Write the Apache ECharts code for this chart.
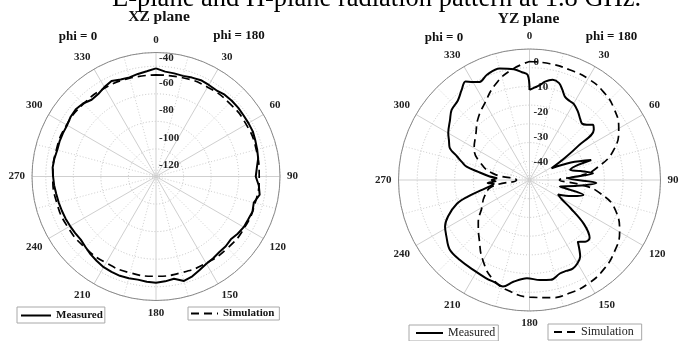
<!DOCTYPE html>
<html><head><meta charset="utf-8">
<script src="https://cdn.jsdelivr.net/npm/echarts@6/dist/echarts.min.js"></script>
<style>html,body{margin:0;padding:0;background:#fff}#c{width:679px;height:341px}</style>
</head><body><div id="c"></div>
<script>
// ---------- data ----------
const titleText = 'E-plane and H-plane radiation pattern at 1.8 GHz.';
const angleTickLabels = ['0','30','60','90','120','150','180','210','240','270','300','330'];

// XZ plane (left)
const xzMeasuredAngles = [0,5,10,15,20,25,30,35,40,45,50,55,60,65,70,75,80,85,90,95,100,105,110,115,120,125,130,135,140,145,150,155,160,165,170,175,180,185,190,195,200,205,210,215,220,225,230,235,240,245,250,255,260,265,270,275,280,285,290,295,300,305,310,315,320,325,330,335,340,345,350,355];
const xzMeasuredDb = [-61.5,-63.6,-64.0,-64.4,-63.6,-62.9,-63.3,-63.6,-62.5,-62.2,-62.2,-62.5,-62.5,-62.5,-63.3,-64.0,-64.7,-66.5,-67.6,-65.1,-63.6,-66.5,-65.5,-66.2,-66.5,-67.6,-69.1,-68.4,-68.4,-67.6,-66.9,-65.1,-62.9,-61.5,-64.7,-63.6,-62.9,-63.3,-64.0,-63.6,-63.3,-63.6,-64.0,-65.1,-66.2,-67.6,-68.7,-68.4,-68.0,-67.6,-67.3,-66.9,-66.5,-65.8,-65.3,-64.7,-65.1,-65.8,-65.5,-65.5,-65.5,-64.4,-64.0,-65.1,-67.3,-66.9,-65.1,-63.6,-65.1,-65.5,-64.4,-63.3];
const xzSimAngles = [0,15,30,45,60,75,90,105,120,135,150,165,180,195,210,225,240,255,270,285,300,315,330,345];
const xzSimDb = [-66.2,-65.8,-65.1,-64.7,-64.4,-64.7,-65.1,-65.5,-65.8,-66.5,-67.3,-67.8,-67.6,-67.6,-67.6,-67.1,-66.2,-65.5,-65.1,-65.1,-65.1,-65.5,-65.8,-66.2];
const xzRadiusTickLabels = ['', '-120', '-100', '-80', '-60', '-40'];

// YZ plane (right)
const yzMeasuredAngles = [0,3,6,9,13,17,20,23,27,30,35,40,43,46,49,52,55,58,62,67,72,76,80,84,87.5,92.5,97,102,105.5,111,117,121,124.5,129,134,138,142,146.5,150,154,158,162,168,174,181.5,189,194,198,204,212,221,229,236,241,246,252,255,258,262,264,266,268,270,273,275,279,282,285,288,292,296,300,307,312,318,323,327,330,333,338,345,352,356,359];
const yzMeasuredDb = [-8.9,-7.9,-6.9,-5.1,-3.8,-4.4,-6.5,-8.7,-9.5,-9.7,-11.3,-13.3,-14.1,-13.1,-11.3,-12.3,-21.0,-28.2,-35.0,-27.0,-19.0,-28.2,-24.2,-19.4,-29.4,-18.2,-25.8,-32.6,-22.6,-27.0,-32.2,-29.8,-25.0,-16.9,-11.5,-11.7,-13.5,-8.2,-6.5,-5.5,-5.7,-5.6,-4.1,-4.7,-5.6,-3.7,-1.0,-1.6,-2.0,-2.5,-2.5,-2.6,-4.8,-6.3,-9.3,-14.5,-19.4,-25.0,-29.8,-30.6,-28.2,-31.4,-29.8,-31.8,-29.0,-24.2,-19.2,-16.9,-14.5,-10.5,-9.1,-7.4,-5.1,-3.0,-2.1,0.2,2.1,0.3,-0.9,0.5,1.3,-0.2,-1.7,-2.9];
const yzSimAngles = [0,10,20,30,40,50,60,70,80,85,90,95,100,110,120,130,140,150,160,170,180,190,200,210,220,230,240,250,260,270,280,290,300,310,320,330,340,350];
const yzSimDb = [2.5,2.3,2.0,1.9,1.1,-0.7,-3.7,-8.9,-17.8,-24.2,-33.0,-25.0,-16.9,-8.1,-3.3,-0.5,1.5,2.7,3.1,2.9,1.9,0.3,-2.5,-7.7,-13.7,-18.2,-23.0,-25.8,-29.8,-39.8,-30.3,-23.8,-19.4,-16.9,-12.9,-9.3,-4.5,-0.5];
const yzRadiusTickValues = [-40, -30, -20, -10, 0];

// ---------- chart ----------
const SERIF = "'Liberation Serif','Times New Roman',serif";
function closed(db, ang) {
  const d = db.map((v, i) => [v, ang[i]]);
  d.push([db[0], 360]);
  return d;
}
function angleAxis(idx) {
  return {
    polarIndex: idx, type: 'value', min: 0, max: 360, interval: 30,
    startAngle: 90, clockwise: true,
    axisLine: { lineStyle: { color: '#8a8a8a', width: 1 } },
    axisTick: { show: false },
    axisLabel: { margin: 7, fontFamily: SERIF, fontWeight: 'bold', fontSize: 11, color: '#222',
      formatter: v => (v < 360 ? angleTickLabels[Math.round(v / 30)] : '') },
    splitLine: { lineStyle: { color: '#cfcfcf', width: 1 } },
    minorTick: { show: false, splitNumber: 2 },
    minorSplitLine: { show: true, lineStyle: { color: '#cfcfcf', width: 1, type: [1, 2] } }
  };
}
const labelFont = { fontFamily: SERIF, fontWeight: 'bold', fontSize: 11, color: '#222' };
const noSymbol = { color: 'rgba(0,0,0,0)', borderColor: 'rgba(0,0,0,0)', borderWidth: 0 };
function legendBox(name, left, top, padding, itemWidth, textStyle) {
  return { data: [name], left: left, top: top, padding: padding, itemWidth: itemWidth, itemHeight: 10,
    borderColor: '#a8a8a8', borderWidth: 1, backgroundColor: '#fff', selectedMode: false,
    itemStyle: noSymbol, textStyle: textStyle };
}
const boldLegendText = { fontFamily: SERIF, fontWeight: 'bold', fontSize: 11, color: '#111' };
const plainLegendText = { fontFamily: SERIF, fontSize: 12, color: '#222' };

const chart = echarts.init(document.getElementById('c'), null, { renderer: 'canvas' });
chart.setOption({
  animation: false,
  backgroundColor: '#fff',
  polar: [
    { center: [156, 176.5], radius: 124 },
    { center: [529.5, 180], radius: 131 }
  ],
  angleAxis: [angleAxis(0), angleAxis(1)],
  radiusAxis: [
    { polarIndex: 0, type: 'value', min: -140, max: -50, interval: 20,
      axisLine: { show: false }, axisTick: { show: false },
      splitLine: { lineStyle: { color: '#c4c4c4', width: 1, type: [1, 2] } },
      axisLabel: { margin: -3, align: 'left', verticalAlign: 'top', showMaxLabel: true, showMinLabel: true,
        formatter: (v, i) => { const t = xzRadiusTickLabels[i] || ''; if (!t) return ''; return v >= -50 ? '{b|' + t + '}' : '{a|' + t + '}'; },
        rich: { a: Object.assign({ padding: [11, 0, 0, 0] }, labelFont), b: Object.assign({ padding: [0, 0, 0, 0] }, labelFont) } }
    },
    { polarIndex: 1, type: 'value', min: -45, max: 7.5, interval: 7.5,
      axisLine: { show: false }, axisTick: { show: false },
      splitLine: { lineStyle: { color: '#c4c4c4', width: 1, type: [1, 2] } },
      axisLabel: Object.assign({ customValues: yzRadiusTickValues, margin: -4, align: 'left', verticalAlign: 'bottom',
        formatter: v => String(v) }, labelFont)
    }
  ],
  legend: [
    legendBox('Measured', 17, 307, [3, 2, 2, 3], 30, boldLegendText),
    legendBox('Simulation', 188, 307, [1, 5, 1, 2], 27, boldLegendText),
    legendBox('Measured', 409, 325, [2, 3, 2, 6], 27, plainLegendText),
    legendBox('Simulation', 548, 324, [2, 8, 2, 5], 22, plainLegendText)
  ],
  graphic: [
    { type: 'text', x: 112, y: -1.3, style: { text: titleText, fontFamily: SERIF, fontSize: 26.5, fill: '#000', align: 'left', verticalAlign: 'middle' } },
    { type: 'text', x: 159, y: 16.5, style: { text: 'XZ plane', fontFamily: SERIF, fontWeight: 'bold', fontSize: 15.5, fill: '#111', align: 'center', verticalAlign: 'middle' } },
    { type: 'text', x: 528.5, y: 18.5, style: { text: 'YZ plane', fontFamily: SERIF, fontWeight: 'bold', fontSize: 15.5, fill: '#111', align: 'center', verticalAlign: 'middle' } },
    { type: 'text', x: 78, y: 36.6, style: { text: 'phi = 0', fontFamily: SERIF, fontWeight: 'bold', fontSize: 13, fill: '#111', align: 'center', verticalAlign: 'middle' } },
    { type: 'text', x: 239, y: 36.1, style: { text: 'phi = 180', fontFamily: SERIF, fontWeight: 'bold', fontSize: 13, fill: '#111', align: 'center', verticalAlign: 'middle' } },
    { type: 'text', x: 444, y: 37.8, style: { text: 'phi = 0', fontFamily: SERIF, fontWeight: 'bold', fontSize: 13, fill: '#111', align: 'center', verticalAlign: 'middle' } },
    { type: 'text', x: 611.5, y: 37.1, style: { text: 'phi = 180', fontFamily: SERIF, fontWeight: 'bold', fontSize: 13, fill: '#111', align: 'center', verticalAlign: 'middle' } }
  ],
  series: [
    { name: 'Measured', type: 'line', coordinateSystem: 'polar', polarIndex: 0, symbol: 'none', z: 3,
      lineStyle: { color: '#000', width: 2 }, itemStyle: { color: '#000' },
      data: closed(xzMeasuredDb, xzMeasuredAngles) },
    { name: 'Simulation', type: 'line', coordinateSystem: 'polar', polarIndex: 0, symbol: 'none', smooth: true, z: 2,
      lineStyle: { color: '#000', width: 1.7, type: [8, 5] }, itemStyle: { color: '#000' },
      data: closed(xzSimDb, xzSimAngles) },
    { name: 'Measured', type: 'line', coordinateSystem: 'polar', polarIndex: 1, symbol: 'none', smooth: 0.35, z: 3,
      lineStyle: { color: '#000', width: 2 }, itemStyle: { color: '#000' },
      data: closed(yzMeasuredDb, yzMeasuredAngles) },
    { name: 'Simulation', type: 'line', coordinateSystem: 'polar', polarIndex: 1, symbol: 'none', smooth: true, z: 2,
      lineStyle: { color: '#000', width: 1.7, type: [8, 5] }, itemStyle: { color: '#000' },
      data: closed(yzSimDb, yzSimAngles) }
  ]
});
</script>
</body></html>
